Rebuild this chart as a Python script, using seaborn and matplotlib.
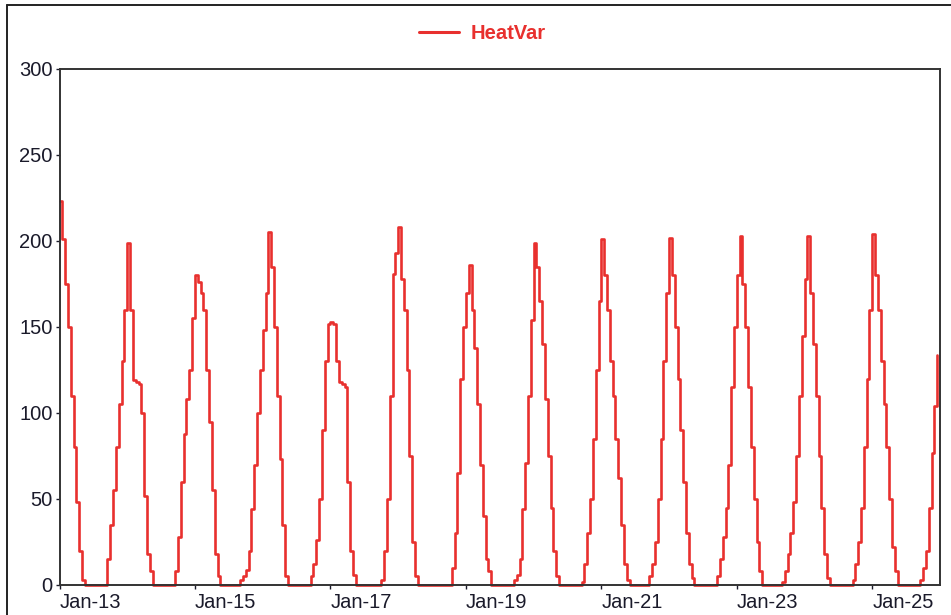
import pandas as pd
import numpy as np
import matplotlib
matplotlib.use("Agg")
import matplotlib.pyplot as plt
import matplotlib.dates as mdates
from matplotlib.lines import Line2D
import seaborn as sns

# CONFIG
OUT_PNG = "out.png"
LINE_COLOR = "#e8302e"
START = "2025-01-13 00:00"

# hourly HeatVar values, one list per day (hours 00..23)
jan13 = [223, 201, 175, 150, 110, 80, 48, 20, 3, 0, 0, 0, 0, 0, 0, 0, 0, 15, 35, 55, 80, 105, 130, 160]
jan14 = [199, 160, 119, 118, 117, 100, 52, 18, 8, 0, 0, 0, 0, 0, 0, 0, 0, 8, 28, 60, 88, 108, 125, 155]
jan15 = [180, 176, 170, 160, 125, 95, 55, 18, 5, 0, 0, 0, 0, 0, 0, 0, 3, 5, 9, 20, 44, 70, 100, 125]
jan16 = [148, 170, 205, 185, 150, 110, 73, 35, 5, 0, 0, 0, 0, 0, 0, 0, 0, 5, 12, 26, 50, 90, 130, 152]
jan17 = [153, 152, 130, 118, 117, 115, 60, 20, 6, 0, 0, 0, 0, 0, 0, 0, 0, 0, 3, 20, 50, 110, 181, 193]
jan18 = [208, 178, 160, 125, 75, 25, 5, 0, 0, 0, 0, 0, 0, 0, 0, 0, 0, 0, 0, 10, 30, 65, 120, 150]
jan19 = [170, 186, 160, 138, 105, 70, 40, 15, 8, 0, 0, 0, 0, 0, 0, 0, 0, 3, 6, 15, 44, 71, 110, 154]
jan20 = [199, 185, 165, 140, 108, 75, 45, 20, 5, 0, 0, 0, 0, 0, 0, 0, 0, 2, 12, 30, 50, 85, 125, 165]
jan21 = [201, 180, 160, 130, 110, 85, 62, 35, 12, 3, 0, 0, 0, 0, 0, 0, 0, 5, 12, 25, 50, 85, 130, 170]
jan22 = [202, 180, 150, 120, 90, 60, 30, 12, 4, 0, 0, 0, 0, 0, 0, 0, 0, 5, 15, 28, 45, 70, 115, 150]
jan23 = [180, 203, 175, 150, 115, 80, 50, 25, 8, 0, 0, 0, 0, 0, 0, 0, 2, 8, 18, 30, 48, 75, 110, 145]
jan24 = [178, 203, 170, 140, 110, 75, 45, 18, 4, 0, 0, 0, 0, 0, 0, 0, 0, 3, 12, 25, 45, 80, 120, 160]
jan25 = [204, 180, 160, 130, 105, 80, 50, 22, 8, 0, 0, 0, 0, 0, 0, 0, 0, 3, 10, 20, 45, 77, 104, 134]

days = [jan13, jan14, jan15, jan16, jan17, jan18, jan19,
        jan20, jan21, jan22, jan23, jan24, jan25]
values = [v for d in days for v in d]

tick_days = ["2025-01-13", "2025-01-15", "2025-01-17", "2025-01-19",
             "2025-01-21", "2025-01-23", "2025-01-25"]

df = pd.DataFrame({
    "time": pd.date_range(START, periods=len(values), freq="h"),
    "HeatVar": values,
})

sns.set_theme(style="white")
plt.rcParams["font.family"] = ["Liberation Sans", "DejaVu Sans"]

fig = plt.figure(figsize=(9.51, 6.15), dpi=100)
ax = fig.add_axes([59.5 / 951, 1 - 585 / 615, (940 - 59.5) / 951, (585 - 69) / 615])

sns.lineplot(data=df, x="time", y="HeatVar", ax=ax, color=LINE_COLOR,
             linewidth=1.9, drawstyle="steps-post", label="HeatVar",
             legend=False, clip_on=False)

ax.set_xlim(pd.Timestamp("2025-01-13"), pd.Timestamp("2025-01-26"))
ax.set_ylim(0, 300)
ax.set_yticks(range(0, 301, 50))
ax.set_xticks(pd.to_datetime(tick_days))
ax.xaxis.set_major_formatter(mdates.DateFormatter("%b-%d"))
for lbl in ax.get_xticklabels():
    lbl.set_horizontalalignment("left")
ax.set_xlabel("")
ax.set_ylabel("")

ax.tick_params(axis="both", which="major", labelsize=14.5, colors="#1a1a2a",
               length=3, width=1, bottom=True, left=True)
ax.tick_params(axis="x", pad=3)
ax.tick_params(axis="y", pad=2)
for sp in ax.spines.values():
    sp.set_color("#333333")
    sp.set_linewidth(1.4)

# legend on top, red bold text
handles = [Line2D([0], [0], color=LINE_COLOR, linewidth=2.2)]
leg = fig.legend(handles, ["HeatVar"], loc="center", bbox_to_anchor=(0.507, 0.946),
                 frameon=False, handlelength=2.0, handletextpad=0.55,
                 prop={"weight": "bold", "size": 14.5})
for t in leg.get_texts():
    t.set_color(LINE_COLOR)

# outer frame (top and left edge visible in the source)
fig.add_artist(Line2D([6.5 / 951, 1], [1 - 4.5 / 615, 1 - 4.5 / 615], color="#222222", linewidth=1.4))
fig.add_artist(Line2D([6.5 / 951, 6.5 / 951], [0, 1 - 4.5 / 615], color="#222222", linewidth=1.4))

fig.savefig(OUT_PNG, dpi=100, facecolor="white")
plt.close(fig)
